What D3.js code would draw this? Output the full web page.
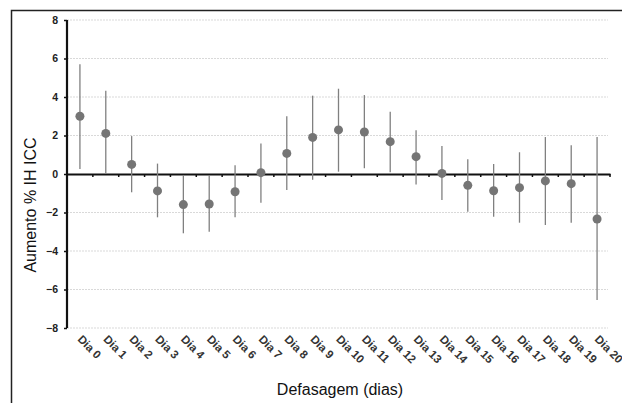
<!DOCTYPE html>
<html>
<head>
<meta charset="utf-8">
<script src="https://cdn.jsdelivr.net/npm/d3@7"></script>
<style>
  body { margin: 0; background: #fff; }
  svg { display: block; font-family: "Liberation Sans Narrow", "Liberation Sans", Arial, sans-serif; }
  .grid line { stroke: #d9d9d9; stroke-dasharray: 2,1; }
</style>
</head>
<body>
<svg id="chart" width="622" height="403"></svg>
<script>
// categorias (defasagem em dias)
const dias = d3.range(0, 21).map(d => 'Dia ' + d);
// estimativa pontual (% aumento)
const estimativa = [3.0, 2.11, 0.5, -0.88, -1.59, -1.56, -0.92, 0.07, 1.07, 1.9, 2.29,
                    2.18, 1.68, 0.9, 0.03, -0.59, -0.87, -0.71, -0.36, -0.5, -2.34];
// limites do IC 95%
const icInferior = [0.26, 0.02, -0.95, -2.25, -3.08, -3.0, -2.25, -1.49, -0.83, -0.3, 0.12,
                    0.3, 0.09, -0.54, -1.35, -1.96, -2.22, -2.53, -2.65, -2.53, -6.55];
const icSuperior = [5.7, 4.33, 1.97, 0.54, -0.05, -0.05, 0.45, 1.59, 3.0, 4.07, 4.43,
                    4.1, 3.24, 2.27, 1.45, 0.76, 0.52, 1.13, 1.92, 1.49, 1.92];
const yTicks = [-8, -6, -4, -2, 0, 2, 4, 6, 8];

const svg = d3.select('#chart');
const data = dias.map((d, i) => ({dia: d, est: estimativa[i], lo: icInferior[i], hi: icSuperior[i]}));

const margin = {left: 67, top: 20, right: 12};
const innerWidth = 610 - margin.left;
const innerHeight = 308;

// moldura externa
svg.append('path')
    .attr('d', 'M11.5,403 V10.5 H622')
    .attr('fill', 'none')
    .attr('stroke', '#222')
    .attr('stroke-width', 1.5);

const x = d3.scaleBand().domain(dias).range([0, innerWidth]);
const y = d3.scaleLinear().domain([-8, 8]).range([innerHeight, 0]);

const g = svg.append('g').attr('transform', `translate(${margin.left},${margin.top})`);

// grade
g.append('g').attr('class', 'grid')
    .selectAll('line')
    .data(yTicks.filter(t => t !== 0))
    .join('line')
    .attr('x1', 0).attr('x2', innerWidth - 2)
    .attr('y1', d => y(d)).attr('y2', d => y(d));

// eixo y
const yAxisG = g.append('g')
    .call(d3.axisLeft(y).tickValues(yTicks).tickSize(3).tickPadding(6).tickFormat(d3.format('d')));
yAxisG.select('.domain').attr('stroke', '#111').attr('stroke-width', 2.2)
    .attr('d', `M0,${innerHeight}V0`);
yAxisG.selectAll('.tick line').attr('stroke', '#111').attr('stroke-width', 1.5);
yAxisG.selectAll('text').attr('font-size', 10.5).attr('font-weight', 'bold').attr('fill', '#222');

// eixo x em zero
const xAxisG = g.append('g')
    .attr('transform', `translate(0,${y(0)})`)
    .call(d3.axisBottom(x).tickSize(0).tickFormat(''));
xAxisG.select('.domain').attr('stroke', '#111').attr('stroke-width', 2.2);
xAxisG.selectAll('.sep')
    .data(dias)
    .join('line')
    .attr('class', 'sep')
    .attr('x1', d => x(d) + x.bandwidth()).attr('x2', d => x(d) + x.bandwidth())
    .attr('y1', 0).attr('y2', 3)
    .attr('stroke', '#111').attr('stroke-width', 1.5);

// rótulos das categorias
g.append('g')
    .selectAll('text')
    .data(dias)
    .join('text')
    .attr('transform', d => `translate(${x(d) + x.bandwidth() / 2 - 3},${innerHeight + 12}) rotate(45)`)
    .attr('font-size', 11.5)
    .attr('font-weight', 'bold')
    .attr('fill', '#333')
    .text(d => d);

// intervalos de confiança
g.selectAll('.ic')
    .data(data)
    .join('line')
    .attr('class', 'ic')
    .attr('x1', d => x(d.dia) + x.bandwidth() / 2)
    .attr('x2', d => x(d.dia) + x.bandwidth() / 2)
    .attr('y1', d => y(d.hi))
    .attr('y2', d => y(d.lo))
    .attr('stroke', '#808080')
    .attr('stroke-width', 1.3);

// pontos
g.selectAll('circle')
    .data(data)
    .join('circle')
    .attr('cx', d => x(d.dia) + x.bandwidth() / 2)
    .attr('cy', d => y(d.est))
    .attr('r', 4.5)
    .attr('fill', '#757575');

// títulos dos eixos
svg.append('text')
    .attr('transform', `translate(36,${margin.top + 185}) rotate(-90)`)
    .attr('text-anchor', 'middle')
    .attr('font-size', 16)
    .attr('fill', '#111')
    .text('Aumento % IH ICC');

svg.append('text')
    .attr('x', 340)
    .attr('y', 395)
    .attr('text-anchor', 'middle')
    .attr('font-size', 16)
    .attr('fill', '#111')
    .text('Defasagem (dias)');
</script>
</body>
</html>
